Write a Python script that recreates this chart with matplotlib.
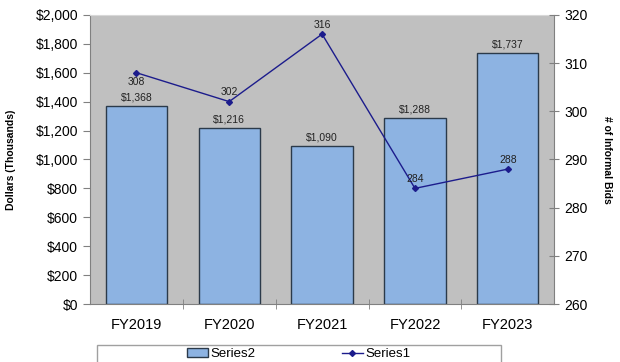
import matplotlib.pyplot as plt
from matplotlib.patches import Rectangle
import numpy as np

plt.rcParams['font.family'] = ['Liberation Sans', 'DejaVu Sans']

years = ['FY2019', 'FY2020', 'FY2021', 'FY2022', 'FY2023']
dollars = [1368, 1216, 1090, 1288, 1737]
bids = [308, 302, 316, 284, 288]

bar_color = '#8DB3E2'
line_color = '#1C1C8C'

fig = plt.figure(figsize=(6.2, 3.62), dpi=100)
ax = fig.add_axes([0.145, 0.160, 0.749, 0.799])
ax.set_facecolor('#C0C0C0')

x = np.arange(len(years))
bars = ax.bar(x, dollars, width=0.66, color=bar_color, edgecolor='#2B3A4A',
              linewidth=1.0, label='Series2', zorder=2)
for xi, v in zip(x, dollars):
    ax.text(xi, v + 25, f'${v:,}', ha='center', va='bottom', fontsize=7.5, color='#222222')

ax.set_xlim(-0.5, len(years) - 0.5)
ax.set_ylim(0, 2000)
ax.set_yticks(range(0, 2001, 200))
ax.set_yticklabels([f'${v:,}' for v in range(0, 2001, 200)], fontsize=10)
ax.set_xticks(x)
ax.set_xticklabels(years, fontsize=10.5)
ax.set_xticks(np.arange(0.5, len(years) - 1, 1), minor=True)
ax.tick_params(axis='x', which='major', length=0, pad=10)
ax.tick_params(axis='x', which='minor', direction='inout', length=7, color='#808080')
ax.tick_params(axis='y', direction='out', length=5, color='#808080')
ax.set_ylabel('Dollars (Thousands)', fontsize=7.5, fontweight='bold', labelpad=14)

for side in ['left', 'bottom', 'right']:
    ax.spines[side].set_color('#808080')
ax.spines['top'].set_color('#D8D8D8')

ax2 = ax.twinx()
ax2.plot(x, bids, color=line_color, linewidth=1.0, marker='D', markersize=3,
         label='Series1', zorder=3)
ax2.set_ylim(260, 320)
ax2.set_yticks(range(260, 321, 10))
ax2.tick_params(axis='y', direction='inout', length=7, color='#808080', labelsize=10)
ax2.set_ylabel('# of Informal Bids', fontsize=7.5, fontweight='bold', rotation=270, labelpad=18)
for side in ['left', 'bottom', 'right', 'top']:
    ax2.spines[side].set_visible(False)

for xi, v in zip(x, bids):
    if xi == 0:
        ax2.text(xi, v - 0.9, str(v), ha='center', va='top', fontsize=7.5, color='#222222')
    else:
        ax2.text(xi, v + 0.9, str(v), ha='center', va='bottom', fontsize=7.5, color='#222222')

# legend box runs off the bottom edge
fig.patches.append(Rectangle((97 / 620, -0.02), 404 / 620, 0.02 + 17 / 362,
                             transform=fig.transFigure, facecolor='white',
                             edgecolor='#A0A0A0', linewidth=1.0))
handles = [bars, ax2.get_lines()[0]]
fig.legend(handles, ['Series2', 'Series1'], loc='center',
           bbox_to_anchor=(0.482, 0.022), ncol=2, fontsize=9.5,
           frameon=False, columnspacing=6.5, handlelength=1.6,
           handletextpad=0.2, borderpad=0, borderaxespad=0)

fig.savefig('out.png', dpi=100)
